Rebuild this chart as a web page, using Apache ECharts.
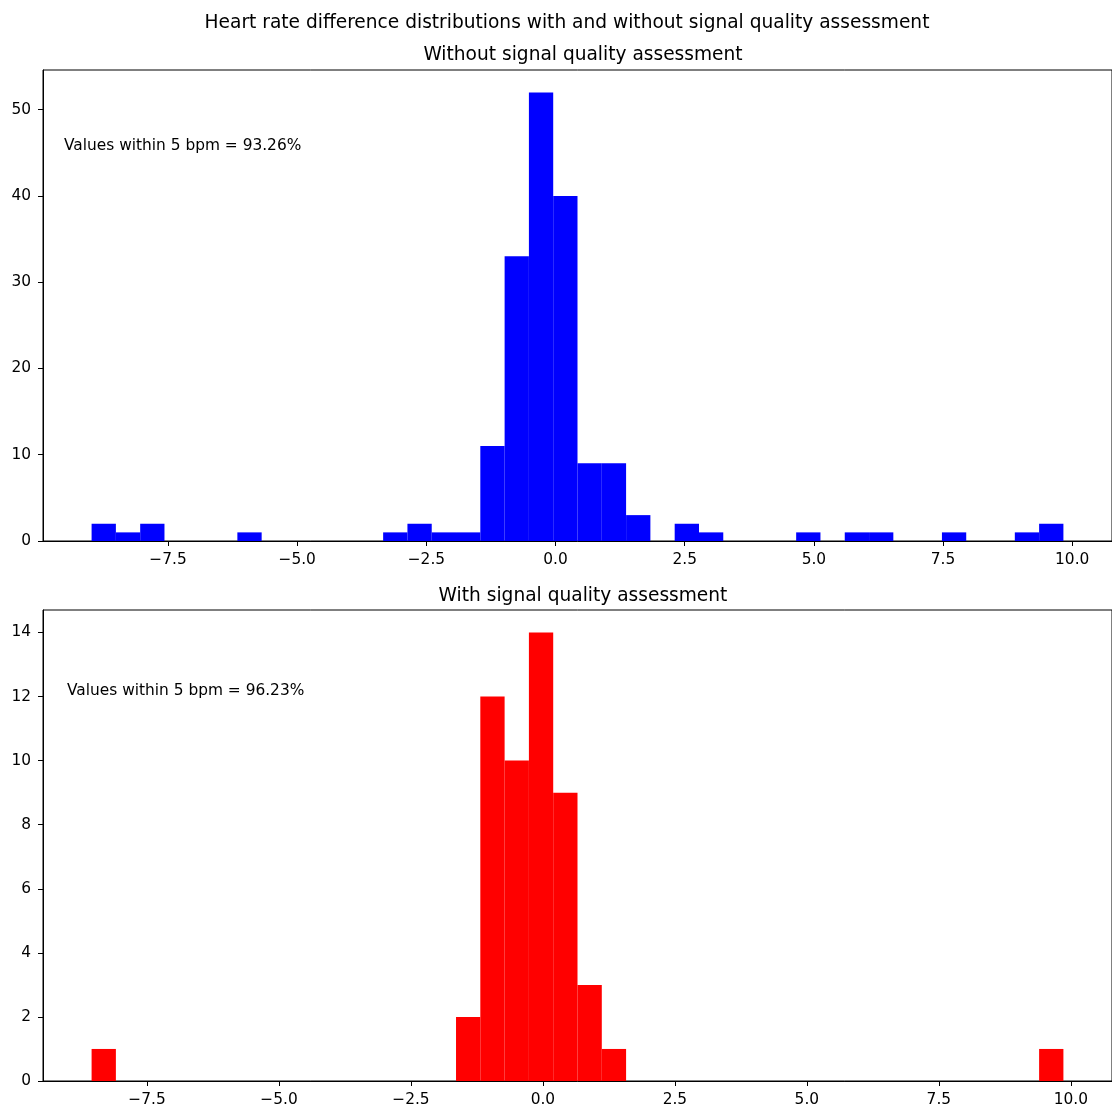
<!DOCTYPE html>
<html>
<head>
<meta charset="utf-8">
<script src="https://cdn.jsdelivr.net/npm/echarts@6/dist/echarts.min.js"></script>
<style>
  html, body { margin: 0; padding: 0; background: #fff; }
  #chart { width: 1112px; height: 1111px; }
</style>
</head>
<body>
<div id="chart"></div>
<script>
// Histogram of HR differences (bpm), 40 equal-width bins each
const rawBinRange = [-8.98, 9.83];
const rawCounts = [2, 1, 2, 0, 0, 0, 1, 0, 0, 0,
                   0, 0, 1, 2, 1, 1, 11, 33, 52, 40,
                   9, 9, 3, 0, 2, 1, 0, 0, 0, 1,
                   0, 1, 1, 0, 0, 1, 0, 0, 1, 2];

const sqaBinRange = [-8.55, 9.86];
const sqaCounts = [1, 0, 0, 0, 0, 0, 0, 0, 0, 0,
                   0, 0, 0, 0, 0, 2, 12, 10, 14, 9,
                   3, 1, 0, 0, 0, 0, 0, 0, 0, 0,
                   0, 0, 0, 0, 0, 0, 0, 0, 0, 1];

const xTicks = [-7.5, -5.0, -2.5, 0.0, 2.5, 5.0, 7.5, 10.0];
const rawYTicks = [0, 10, 20, 30, 40, 50];
const sqaYTicks = [0, 2, 4, 6, 8, 10, 12, 14];

const rawPct = '93.26%';
const sqaPct = '96.23%';

const FONT = 'DejaVu Sans';
const TICK_FS = 15.4;
const TITLE_FS = 18.6;

// [left edge, right edge, count] per bin
function toBins(range, counts) {
  const n = counts.length;
  const w = (range[1] - range[0]) / n;
  return counts.map((c, i) => [range[0] + i * w, range[0] + (i + 1) * w, c]);
}

// 5% padding around the data range
function padded(range) {
  const m = (range[1] - range[0]) * 0.05;
  return [range[0] - m, range[1] + m];
}

function renderBar(params, api) {
  const p0 = api.coord([api.value(0), api.value(2)]);
  const p1 = api.coord([api.value(1), 0]);
  return {
    type: 'rect',
    shape: { x: p0[0], y: p0[1], width: p1[0] - p0[0], height: p1[1] - p0[1] },
    style: { fill: api.visual('color') }
  };
}

const fmtX = v => (v < 0 ? '\u2212' : '') + Math.abs(v).toFixed(1);

function xAxisFor(gridIndex, range) {
  const r = padded(range);
  return {
    type: 'value', gridIndex, min: r[0], max: r[1],
    splitLine: { show: false },
    axisLine: { show: true, onZero: false, lineStyle: { color: '#000', width: 1 } },
    axisTick: { show: true, length: 5, lineStyle: { color: '#000', width: 1 }, customValues: xTicks },
    axisLabel: { color: '#000', fontFamily: FONT, fontSize: TICK_FS, margin: 11, formatter: fmtX, customValues: xTicks }
  };
}

function yAxisFor(gridIndex, counts, ticks) {
  return {
    type: 'value', gridIndex, min: 0, max: Math.max(...counts) * 1.05,
    splitLine: { show: false },
    axisLine: { show: true, onZero: false, lineStyle: { color: '#000', width: 1 } },
    axisTick: { show: true, length: 5, lineStyle: { color: '#000', width: 1 }, customValues: ticks },
    axisLabel: { color: '#000', fontFamily: FONT, fontSize: TICK_FS, margin: 12, customValues: ticks }
  };
}

const chart = echarts.init(document.getElementById('chart'), null, { renderer: 'canvas' });

const titleStyle = { fontFamily: FONT, fontSize: TITLE_FS, fontWeight: 'normal', color: '#000' };

chart.setOption({
  backgroundColor: '#fff',
  animation: false,
  title: [
    { text: 'Heart rate difference distributions with and without signal quality assessment',
      left: 562, top: 9, textAlign: 'center', textStyle: titleStyle },
    { text: 'Without signal quality assessment',
      left: 578, top: 41, textAlign: 'center', textStyle: titleStyle },
    { text: 'With signal quality assessment',
      left: 578, top: 582, textAlign: 'center', textStyle: titleStyle }
  ],
  grid: [
    { left: 43, top: 70, width: 1070, height: 471, show: true, borderColor: '#000', borderWidth: 1, backgroundColor: 'transparent' },
    { left: 43, top: 610, width: 1070, height: 471, show: true, borderColor: '#000', borderWidth: 1, backgroundColor: 'transparent' }
  ],
  xAxis: [xAxisFor(0, rawBinRange), xAxisFor(1, sqaBinRange)],
  yAxis: [yAxisFor(0, rawCounts, rawYTicks), yAxisFor(1, sqaCounts, sqaYTicks)],
  graphic: [
    { type: 'text', left: 64, top: 138,
      style: { text: 'Values within 5 bpm = ' + rawPct, font: TICK_FS + 'px "' + FONT + '"', fill: '#000' } },
    { type: 'text', left: 67, top: 683,
      style: { text: 'Values within 5 bpm = ' + sqaPct, font: TICK_FS + 'px "' + FONT + '"', fill: '#000' } }
  ],
  series: [
    { type: 'custom', xAxisIndex: 0, yAxisIndex: 0, renderItem: renderBar,
      itemStyle: { color: '#0000ff' }, encode: { x: [0, 1], y: 2 },
      data: toBins(rawBinRange, rawCounts) },
    { type: 'custom', xAxisIndex: 1, yAxisIndex: 1, renderItem: renderBar,
      itemStyle: { color: '#ff0000' }, encode: { x: [0, 1], y: 2 },
      data: toBins(sqaBinRange, sqaCounts) }
  ]
});
</script>
</body>
</html>
